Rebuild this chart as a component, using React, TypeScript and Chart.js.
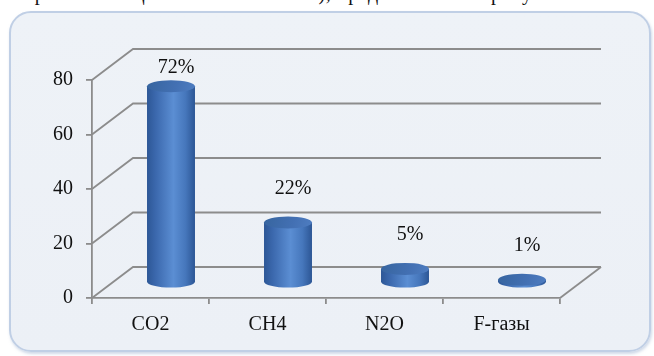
import React, { useEffect, useRef } from "react";
import { Chart, registerables } from "chart.js";

Chart.register(...registerables);

// Greenhouse gas shares, %
const categories = ["CO2", "CH4", "N2O", "F-газы"];
const shares = [72, 22, 5, 1];
const yTicks = [0, 20, 40, 60, 80];

const SERIF = "'Liberation Serif', 'Times New Roman', serif";
const GRID = "#8c8c8c";
const DEPTH_X = 41;
const DEPTH_Y = -31;
const CAP_RY = 6;

function cylinder(ctx: CanvasRenderingContext2D, cx: number, topY: number, baseY: number, w: number) {
  const rx = w / 2;
  const body = ctx.createLinearGradient(cx - rx, 0, cx + rx, 0);
  body.addColorStop(0, "#2d5796");
  body.addColorStop(0.18, "#3b68ad");
  body.addColorStop(0.55, "#5b8ed3");
  body.addColorStop(0.8, "#4677bc");
  body.addColorStop(1, "#2c5695");
  ctx.beginPath();
  ctx.moveTo(cx - rx, topY);
  ctx.lineTo(cx - rx, baseY);
  ctx.ellipse(cx, baseY, rx, CAP_RY, 0, Math.PI, 0, true);
  ctx.lineTo(cx + rx, topY);
  ctx.closePath();
  ctx.fillStyle = body;
  ctx.fill();

  const cap = ctx.createLinearGradient(cx - rx, topY - CAP_RY, cx + rx, topY + CAP_RY);
  cap.addColorStop(0, "#37659f");
  cap.addColorStop(0.6, "#4370b3");
  cap.addColorStop(1, "#4e7dc1");
  ctx.beginPath();
  ctx.ellipse(cx, topY, rx, CAP_RY, 0, 0, Math.PI * 2);
  ctx.fillStyle = cap;
  ctx.fill();
}

// Back wall, floor and cylinders of the pseudo-3D column chart
const depthPlugin = {
  id: "depth3d",
  beforeDatasetsDraw(chart: any) {
    const { ctx, chartArea: a, scales } = chart;
    const y = scales.y;
    ctx.save();
    ctx.strokeStyle = GRID;
    ctx.lineWidth = 1.8;
    for (const v of yTicks) {
      const py = y.getPixelForValue(v);
      ctx.beginPath();
      ctx.moveTo(a.left, py);
      ctx.lineTo(a.left + DEPTH_X, py + DEPTH_Y);
      ctx.lineTo(a.right + DEPTH_X, py + DEPTH_Y);
      ctx.stroke();
    }
    ctx.beginPath();
    ctx.moveTo(a.right, a.bottom);
    ctx.lineTo(a.right + DEPTH_X, a.bottom + DEPTH_Y);
    ctx.stroke();
    ctx.restore();
  },
  afterDatasetsDraw(chart: any) {
    const { ctx, chartArea: a } = chart;
    const meta = chart.getDatasetMeta(0);
    ctx.save();
    meta.data.forEach((bar: any) => {
      const cx = bar.x + DEPTH_X / 2;
      const topY = bar.y + DEPTH_Y / 2;
      const baseY = bar.base + DEPTH_Y / 2;
      cylinder(ctx, cx, topY, baseY, bar.width);
    });
    ctx.fillStyle = "#111";
    ctx.font = `20px ${SERIF}`;
    ctx.textAlign = "center";
    ctx.textBaseline = "middle";
    meta.data.forEach((bar: any, i: number) => {
      const cx = bar.x + DEPTH_X / 2 + 5;
      const topY = bar.y + DEPTH_Y / 2;
      const ly = Math.max(topY - 34, a.top - 12);
      ctx.fillText(`${shares[i]}%`, cx, ly);
    });
    ctx.restore();
  },
};

export default function App() {
  const ref = useRef<HTMLCanvasElement | null>(null);

  useEffect(() => {
    if (!ref.current) return;
    const chart = new Chart(ref.current, {
      type: "bar",
      data: {
        labels: categories,
        datasets: [
          {
            data: shares,
            backgroundColor: "rgba(0,0,0,0)",
            borderWidth: 0,
            categoryPercentage: 1,
            barPercentage: 0.41,
          },
        ],
      },
      options: {
        responsive: false,
        animation: false,
        devicePixelRatio: 1,
        layout: { padding: { top: 80, right: 94, left: 0, bottom: 0 } },
        plugins: { legend: { display: false }, tooltip: { enabled: false } },
        scales: {
          x: {
            afterFit: (s: any) => {
              s.height = 58;
            },
            grid: {
              display: true,
              offset: true,
              drawOnChartArea: false,
              drawTicks: true,
              tickLength: 6,
              color: GRID,
              lineWidth: 1.8,
            },
            border: { display: true, color: GRID, width: 1.8 },
            ticks: { color: "#111", font: { family: SERIF, size: 20 }, padding: 9 },
          },
          y: {
            min: yTicks[0],
            max: yTicks[yTicks.length - 1],
            afterFit: (s: any) => {
              s.width = 92;
            },
            ticks: {
              stepSize: yTicks[1] - yTicks[0],
              color: "#111",
              font: { family: SERIF, size: 20 },
              padding: 13,
            },
            grid: {
              display: true,
              drawOnChartArea: false,
              drawTicks: true,
              tickLength: 6,
              color: GRID,
              lineWidth: 1.8,
            },
            border: { display: true, color: GRID, width: 1.8 },
          },
        },
      },
      plugins: [depthPlugin],
    });
    return () => chart.destroy();
  }, []);

  return (
    <div
      style={{
        position: "fixed",
        left: 0,
        top: 0,
        width: 654,
        height: 356,
        overflow: "hidden",
        background: "#fff",
      }}
    >
      <div
        style={{
          position: "absolute",
          left: 0,
          top: -19,
          width: 654,
          whiteSpace: "nowrap",
          font: `20px ${SERIF}`,
          lineHeight: "24px",
          color: "#111",
          letterSpacing: "0.6px",
        }}
      >
        выбросов в общем объеме эмиссии), представлено на рисунке 1.
      </div>
      <div
        style={{
          position: "absolute",
          left: 9,
          top: 11,
          width: 638,
          height: 337,
          border: "2px solid #c0cfe5",
          borderRadius: 22,
          background: "linear-gradient(180deg, #eef2f7 0%, #ecf0f6 100%)",
          boxShadow: "1px 2px 3px rgba(160,180,210,0.5)",
        }}
      />
      <canvas
        ref={ref}
        width={654}
        height={356}
        style={{ position: "absolute", left: 0, top: 0, width: 654, height: 356 }}
      />
    </div>
  );
}
